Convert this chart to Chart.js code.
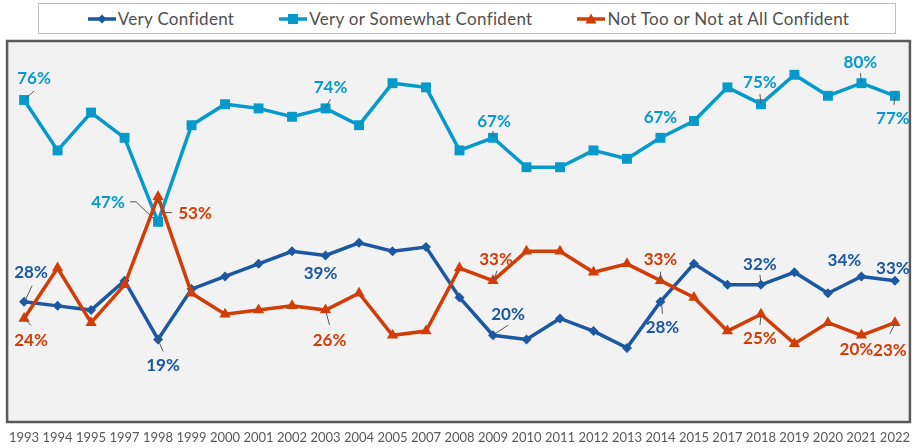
<!DOCTYPE html>
<html>
<head>
<meta charset="utf-8">
<script src="https://cdn.jsdelivr.net/npm/chart.js@4.4.1/dist/chart.umd.min.js"></script>
<style>
    html, body { margin: 0; padding: 0; background: #fff; }
    #wrap { position: relative; width: 919px; height: 448px; }
    #chart { position: absolute; left: 0; top: 0; }
    #legend {
        position: absolute; left: 38px; top: 3px; width: 853px; height: 29px;
        border: 1px solid #bfbfbf; background: #fff; z-index: 2;
        display: flex; justify-content: center; align-items: center; gap: 45px;
        font-family: Lato, sans-serif; font-size: 17px; color: #505050; letter-spacing: 0.3px;
        padding-left: 3px; box-sizing: content-box;
    }
    .legend-item { display: flex; align-items: center; gap: 2px; white-space: nowrap; }
</style>
</head>
<body>
<div id="wrap">
    <div id="legend"></div>
    <canvas id="chart" width="919" height="448"></canvas>
</div>
<script>
// ============================================
// Confidence trend 1993-2022
// ============================================

const YEARS = ['1993', '1994', '1995', '1997', '1998', '1999', '2000', '2001', '2002', '2003',
    '2004', '2005', '2007', '2008', '2009', '2010', '2011', '2012', '2013', '2014',
    '2015', '2017', '2018', '2019', '2020', '2021', '2022'];

const VERY_CONFIDENT = [28, 27, 26, 33, 19, 31, 34, 37, 40, 39,
    42, 40, 41, 29, 20, 19, 24, 21, 17, 28,
    37, 32, 32, 35, 30, 34, 33];

const VERY_OR_SOMEWHAT = [76, 64, 73, 67, 47, 70, 75, 74, 72, 74,
    70, 80, 79, 64, 67, 60, 60, 64, 62, 67,
    71, 79, 75, 82, 77, 80, 77];

const NOT_TOO_OR_NOT_AT_ALL = [24, 36, 23, 32, 53, 30, 25, 26, 27, 26,
    30, 20, 21, 36, 33, 40, 40, 35, 37, 33,
    29, 21, 25, 18, 23, 20, 23];

const SERIES_NAMES = ['Very Confident', 'Very or Somewhat Confident', 'Not Too or Not at All Confident'];
const SERIES_COLORS = ['#1c57a1', '#0699cc', '#d23c06'];
const SERIES_MARKERS = ['rectRot', 'rect', 'triangle'];

// which points carry a value label: [series, year, dx, dy, leader line (relative to point)]
const VALUE_LABELS = [
    [1, '1993', 10, -21, [[1, -1], [10, -9]]],
    [1, '1998', -50, -19, [[-1, 0], [-22, -20], [-28, -20]]],
    [1, '2003', 5, -21, [[0, -1], [5, -9]]],
    [1, '2009', 1, -16, [[0, -1], [0, -7]]],
    [1, '2014', 0, -20, null],
    [1, '2018', -1, -22, [[0, -1], [-1, -10]]],
    [1, '2021', -1, -21, [[0, -1], [-1, -10]]],
    [1, '2022', -2, 23, [[0, 1], [-1, 9]]],
    [0, '1993', 7, -29, [[1, -1], [8, -16]]],
    [0, '1998', 5, 26, [[0, 0], [5, 12]]],
    [0, '2003', -5, 18, null],
    [0, '2009', 15, -21, [[1, -1], [15, -10]]],
    [0, '2014', 2, 26, [[1, 0], [2, 12]]],
    [0, '2018', -1, -20, [[0, -1], [-1, -10]]],
    [0, '2021', -17, -16, null],
    [0, '2022', -2, -12, null],
    [2, '1993', 7, 22, [[1, 1], [7, 7]]],
    [2, '1998', 37, 17, [[-1, 4], [7, 16], [14, 16]]],
    [2, '2003', 4, 30, [[0, 0], [4, 15]]],
    [2, '2009', 3, -21, [[1, -1], [4, -10]]],
    [2, '2014', 0, -21, [[0, -1], [0, -9]]],
    [2, '2018', -1, 24, [[0, 1], [-1, 11]]],
    [2, '2021', -5, 14, null],
    [2, '2022', -5, 28, [[0, 1], [-5, 11]]]
];

const SERIES_DATA = [VERY_CONFIDENT, VERY_OR_SOMEWHAT, NOT_TOO_OR_NOT_AT_ALL];

// --- legend (html) ---
function markerSvg(i) {
    const c = SERIES_COLORS[i];
    let mark = '';
    if (i === 0) mark = `<polygon points="14,1.5 18.5,6 14,10.5 9.5,6" fill="${c}"/>`;
    if (i === 1) mark = `<rect x="9" y="1" width="10" height="10" fill="${c}"/>`;
    if (i === 2) mark = `<polygon points="14,0.5 19.5,10.5 8.5,10.5" fill="${c}"/>`;
    return `<svg width="28" height="12"><line x1="0" y1="6" x2="28" y2="6" stroke="${c}" stroke-width="3.5"/>${mark}</svg>`;
}

const legendEl = document.getElementById('legend');
SERIES_NAMES.forEach((name, i) => {
    const item = document.createElement('div');
    item.className = 'legend-item';
    item.innerHTML = markerSvg(i) + `<span>${name}</span>`;
    legendEl.appendChild(item);
});

// --- plugins ---
const plotFrame = {
    id: 'plotFrame',
    beforeDraw(chart) {
        const { ctx, chartArea: a } = chart;
        ctx.save();
        ctx.fillStyle = '#ffffff';
        ctx.fillRect(0, 0, chart.width, chart.height);
        ctx.fillStyle = '#f2f2f2';
        ctx.fillRect(a.left - 17, a.top - 1, a.right - a.left + 32, a.bottom - a.top + 2);
        ctx.strokeStyle = '#5a5a5a';
        ctx.lineWidth = 2.5;
        ctx.strokeRect(a.left - 17, a.top - 1, a.right - a.left + 32, a.bottom - a.top + 2);
        ctx.restore();
    }
};

const valueLabels = {
    id: 'valueLabels',
    afterDatasetsDraw(chart) {
        const ctx = chart.ctx;
        ctx.save();
        VALUE_LABELS.forEach(([ds, year, dx, dy, leader]) => {
            const idx = YEARS.indexOf(year);
            const pt = chart.getDatasetMeta(ds).data[idx];
            if (!pt) return;
            if (leader) {
                ctx.strokeStyle = '#595959';
                ctx.lineWidth = 1;
                ctx.beginPath();
                leader.forEach(([lx, ly], k) => {
                    if (k === 0) ctx.moveTo(pt.x + lx, pt.y + ly);
                    else ctx.lineTo(pt.x + lx, pt.y + ly);
                });
                ctx.stroke();
            }
            ctx.fillStyle = SERIES_COLORS[ds];
            ctx.font = 'bold 17px Lato, sans-serif';
            ctx.textAlign = 'center';
            ctx.textBaseline = 'middle';
            ctx.fillText(SERIES_DATA[ds][idx] + '%', pt.x + dx, pt.y + dy);
        });
        ctx.restore();
    }
};

const pointSizes = [5, 7, 6.5];
const drawOrder = [2, 1, 0];

new Chart(document.getElementById('chart'), {
    type: 'line',
    data: {
        labels: YEARS,
        datasets: SERIES_DATA.map((data, i) => ({
            label: SERIES_NAMES[i],
            data,
            borderColor: SERIES_COLORS[i],
            backgroundColor: SERIES_COLORS[i],
            borderWidth: 3.5,
            pointStyle: SERIES_MARKERS[i],
            pointRadius: pointSizes[i],
            pointBorderWidth: 0,
            pointBackgroundColor: SERIES_COLORS[i],
            tension: 0,
            order: drawOrder[i]
        }))
    },
    options: {
        responsive: false,
        animation: false,
        layout: { padding: { left: 24, right: 17, top: 42, bottom: 2 } },
        scales: {
            x: {
                offset: false,
                grid: { display: false, drawTicks: false },
                border: { display: false },
                ticks: { color: '#595959', font: { family: 'Lato', size: 13 }, padding: 9, maxRotation: 0, autoSkip: false },
                afterFit(scale) { scale.height = 25; }
            },
            y: { display: false, min: -0.4, max: 89.8 }
        },
        plugins: {
            legend: { display: false },
            tooltip: { enabled: false }
        }
    },
    plugins: [plotFrame, valueLabels]
});
</script>
</body>
</html>
